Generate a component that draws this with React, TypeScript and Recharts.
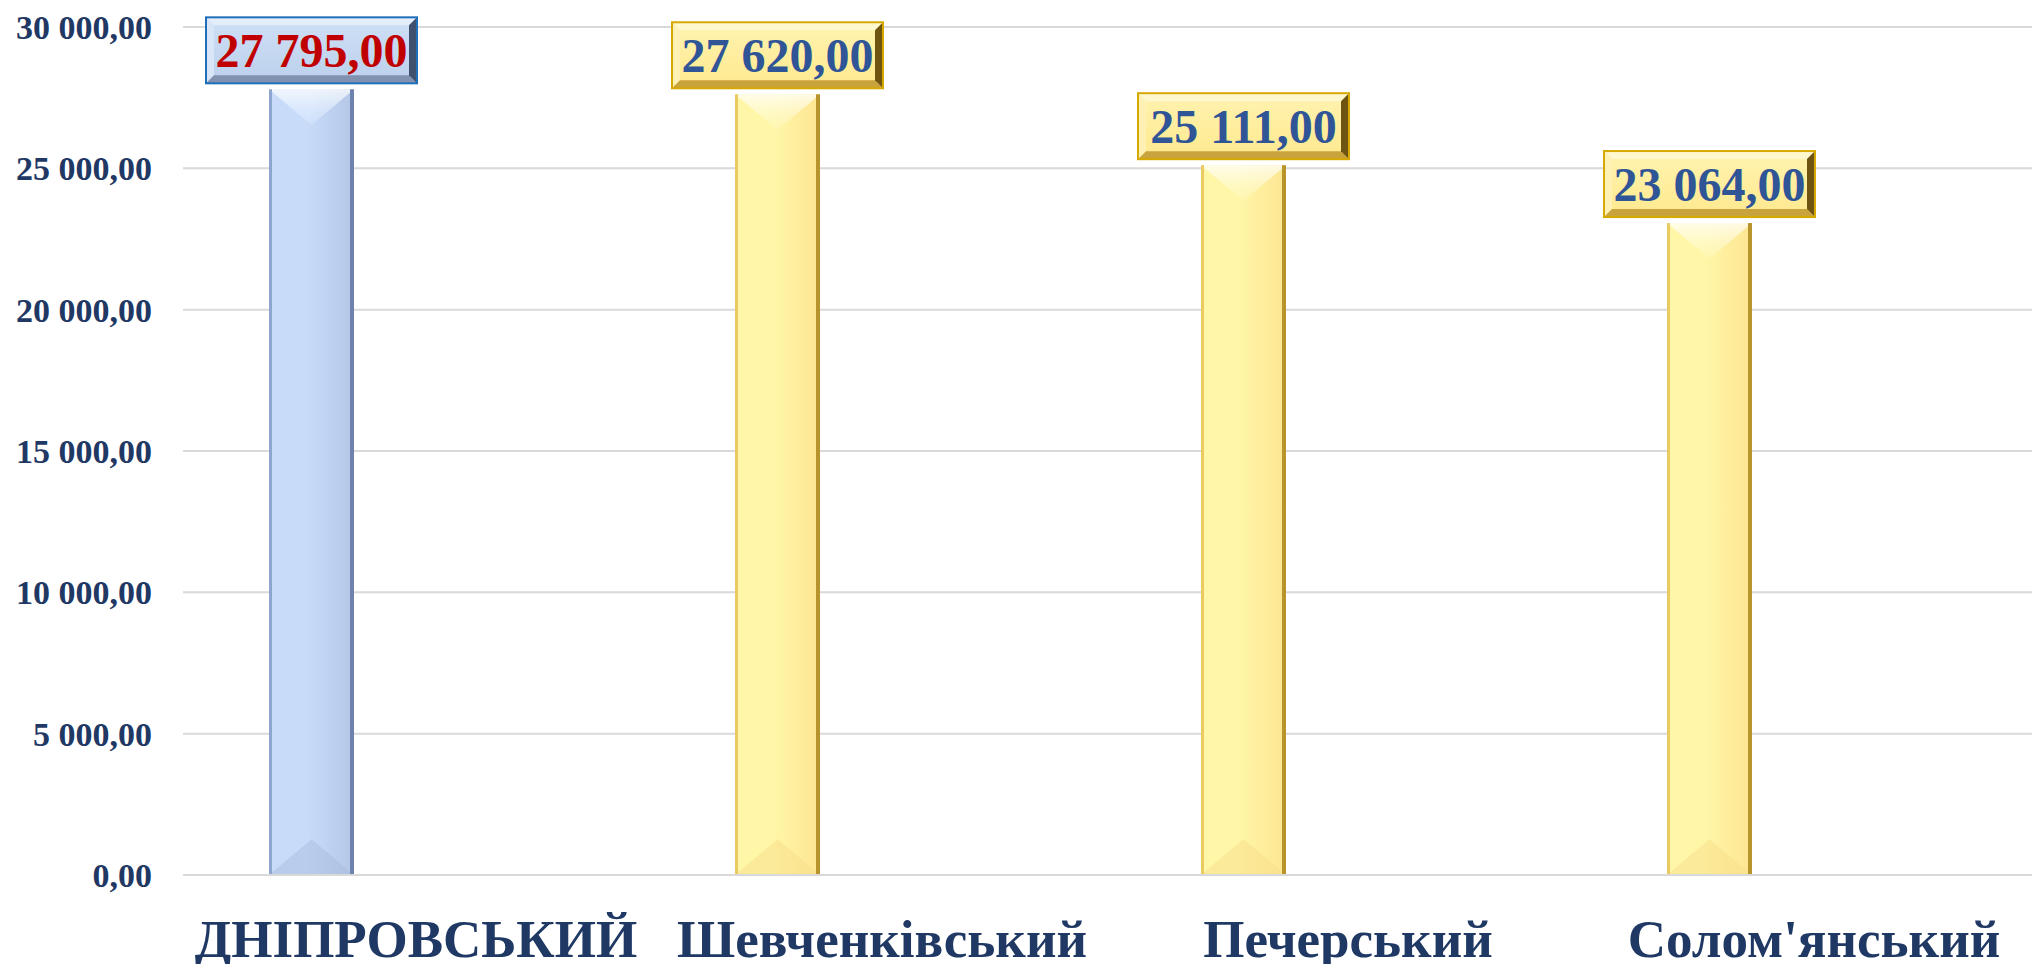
import React from "react";
import { BarChart, Bar, XAxis, YAxis, CartesianGrid, LabelList } from "recharts";

// ---- data ----
const districts = ["ДНІПРОВСЬКИЙ", "Шевченківський", "Печерський", "Солом'янський"];
const amounts = [27795, 27620, 25111, 23064];
const yTicks = [0, 5000, 10000, 15000, 20000, 25000, 30000];
const highlighted = ["ДНІПРОВСЬКИЙ"];

const data = districts.map((name, i) => ({ name, value: amounts[i] }));

// ---- style ----
const FONT = '"Times New Roman", "Liberation Serif", serif';
const NAVY = "#1f3864";
const BAR_SIZE = 85;
const BAR_SHIFT = -105; // bars sit to the left of the category centre, as in the source
const BOX_W = 211;
const BOX_H = 66;
const BOX_GAP = 6;

const themes: Record<string, any> = {
  blue: {
    faceL: "#c8dcfa",
    faceR: "#b3c6e6",
    top: "#dcebff",
    bottom: "#a9bbdc",
    edgeL: "#8ea5cf",
    edgeR: "#6d83ad",
    boxBorder: "#1f6fb8",
    boxFaceT: "#cfe0f6",
    boxFaceB: "#bcd0ec",
    boxTop: "#e4eefb",
    boxLeft: "#d8e6f8",
    boxBottom: "#8092b0",
    boxRight: "#3f4f6e",
    text: "#c00000",
  },
  yellow: {
    faceL: "#fff6a8",
    faceR: "#fde592",
    top: "#fffac0",
    bottom: "#f8de8a",
    edgeL: "#e9cb62",
    edgeR: "#b8952c",
    boxBorder: "#d6a900",
    boxFaceT: "#fff3b0",
    boxFaceB: "#ffe98e",
    boxTop: "#fff8cf",
    boxLeft: "#fff0b4",
    boxBottom: "#c9a33c",
    boxRight: "#6e5410",
    text: "#2f5597",
  },
};

const themeFor = (name: string) => (highlighted.includes(name) ? themes.blue : themes.yellow);

function fmt(v: number) {
  const [i, d] = v.toFixed(2).split(".");
  return i.replace(/\B(?=(\d{3})+(?!\d))/g, " ") + "," + d;
}

function BevelBar(props: any) {
  const { x, y, width, height, index } = props;
  if (!height || height <= 0) return null;
  const t = themeFor(districts[index]);
  const bx = x + BAR_SHIFT;
  const bev = width * 0.42;
  const gid = `barface-${index}`;
  return (
    <g>
      <defs>
        <linearGradient id={gid} x1="0" y1="0" x2="1" y2="0">
          <stop offset="0" stopColor={t.faceL} />
          <stop offset="0.45" stopColor={t.faceL} />
          <stop offset="1" stopColor={t.faceR} />
        </linearGradient>
        <linearGradient id={`${gid}-top`} x1="0" y1="0" x2="0" y2="1">
          <stop offset="0" stopColor="#ffffff" stopOpacity="0.75" />
          <stop offset="1" stopColor={t.top} stopOpacity="0.35" />
        </linearGradient>
      </defs>
      <rect x={bx} y={y} width={width} height={height} fill={`url(#${gid})`} />
      <polygon
        points={`${bx},${y} ${bx + width},${y} ${bx + width / 2},${y + bev}`}
        fill={`url(#${gid}-top)`}
      />
      <polygon
        points={`${bx},${y + height} ${bx + width},${y + height} ${bx + width / 2},${y + height - bev}`}
        fill={t.bottom}
        opacity={0.5}
      />
      <rect x={bx} y={y} width={3} height={height} fill={t.edgeL} />
      <rect x={bx + width - 4} y={y} width={4} height={height} fill={t.edgeR} />
    </g>
  );
}

function BoxLabel(props: any) {
  const { x, y, width, index, value } = props;
  const t = themeFor(districts[index]);
  const cx = x + width / 2 + BAR_SHIFT;
  const bottom = y - BOX_GAP;
  const L = cx - BOX_W / 2;
  const T = bottom - BOX_H;
  const R = L + BOX_W;
  const B = bottom;
  const b = 8;
  const gid = `boxface-${index}`;
  return (
    <g>
      <defs>
        <linearGradient id={gid} x1="0" y1="0" x2="0" y2="1">
          <stop offset="0" stopColor={t.boxFaceT} />
          <stop offset="1" stopColor={t.boxFaceB} />
        </linearGradient>
      </defs>
      <rect x={L} y={T} width={BOX_W} height={BOX_H} fill={`url(#${gid})`} />
      <polygon points={`${L},${T} ${R},${T} ${R - b},${T + b} ${L + b},${T + b}`} fill={t.boxTop} />
      <polygon points={`${L},${T} ${L + b},${T + b} ${L + b},${B - b} ${L},${B}`} fill={t.boxLeft} />
      <polygon points={`${L},${B} ${L + b},${B - b} ${R - b},${B - b} ${R},${B}`} fill={t.boxBottom} />
      <polygon points={`${R},${T} ${R},${B} ${R - b},${B - b} ${R - b},${T + b}`} fill={t.boxRight} />
      <rect x={L} y={T} width={BOX_W} height={BOX_H} fill="none" stroke={t.boxBorder} strokeWidth={2} />
      <text
        x={cx}
        y={T + BOX_H / 2}
        dy={17}
        textAnchor="middle"
        fontFamily={FONT}
        fontWeight="bold"
        fontSize={48}
        fill={t.text}
      >
        {fmt(Number(value))}
      </text>
    </g>
  );
}

function YTick(props: any) {
  const { x, y, payload } = props;
  return (
    <text x={x} y={y} dy={12} textAnchor="end" fontFamily={FONT} fontWeight="bold" fontSize={34} fill={NAVY}>
      {fmt(payload.value)}
    </text>
  );
}

function XTick(props: any) {
  const { x, y, payload } = props;
  return (
    <text x={x} y={y} dy={82} textAnchor="middle" fontFamily={FONT} fontWeight="bold" fontSize={53} fill={NAVY}>
      {payload.value}
    </text>
  );
}

export default function App() {
  return (
    <div
      style={{
        position: "absolute",
        left: 0,
        top: 0,
        width: 2032,
        height: 964,
        overflow: "hidden",
        background: "#ffffff",
      }}
    >
      <BarChart
        width={2050}
        height={964}
        data={data}
        margin={{ top: 27, right: 3, bottom: 0, left: 0 }}
      >
        <CartesianGrid vertical={false} stroke="#d9d9d9" strokeWidth={2} />
        <XAxis
          dataKey="name"
          interval={0}
          height={89}
          tickLine={false}
          tickSize={0}
          tickMargin={0}
          axisLine={{ stroke: "#d9d9d9", strokeWidth: 2 }}
          tick={<XTick />}
        />
        <YAxis
          width={183}
          domain={[0, 30000]}
          ticks={yTicks}
          interval={0}
          tickLine={false}
          axisLine={false}
          tickSize={6}
          tickMargin={25}
          tick={<YTick />}
        />
        <Bar dataKey="value" barSize={BAR_SIZE} isAnimationActive={false} shape={<BevelBar />}>
          <LabelList dataKey="value" content={<BoxLabel />} />
        </Bar>
      </BarChart>
    </div>
  );
}
